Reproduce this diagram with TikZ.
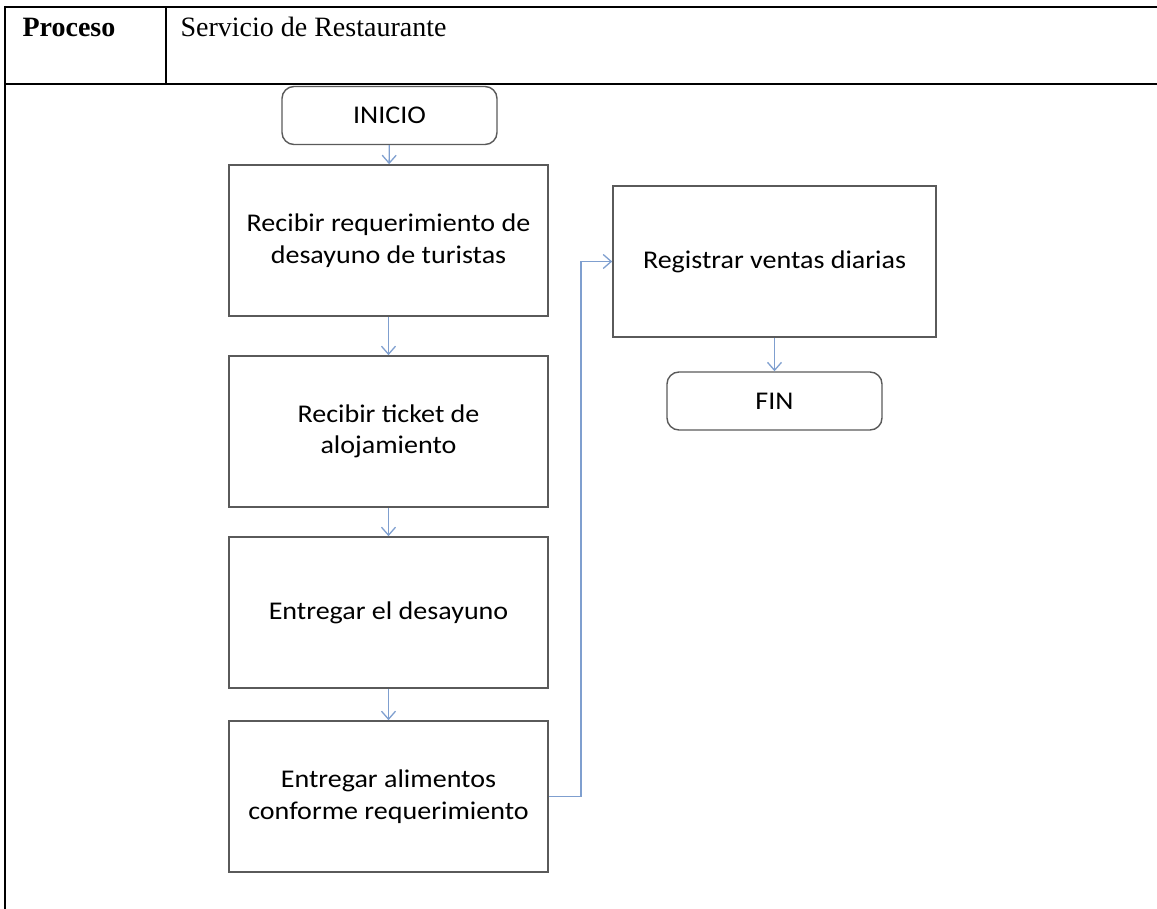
\documentclass[tikz,border=0pt]{standalone}
\usepackage{fontspec}
\setmainfont{Liberation Serif}
\newfontfamily\boxfont[FakeStretch=1.1]{Carlito}
\usetikzlibrary{arrows.meta}
\definecolor{boxline}{HTML}{5A5A5A}
\definecolor{flowblue}{HTML}{7F9FCF}
\begin{document}
\begin{tikzpicture}[x=1pt,y=-1pt,
  stepbox/.style={draw=boxline,line width=1.6pt,rectangle,minimum width=319pt,minimum height=151pt,
    align=center,font=\boxfont\fontsize{25.5}{31.5}\selectfont,inner sep=0pt},
  termbox/.style={draw=boxline,line width=1.4pt,rectangle,rounded corners=12pt,minimum width=215pt,
    minimum height=58pt,font=\boxfont\fontsize{25.5}{31.5}\selectfont,inner sep=0pt},
  flow/.style={draw=flowblue,line width=1.3pt,-{Straight Barb[length=8pt,width=14pt,line width=1.3pt]}},
  rule/.style={draw=black,line width=2pt}]
\useasboundingbox (0,0) rectangle (1157,909);
% table frame
\draw[rule] (5,7) -- (1157,7);
\draw[rule] (5,84) -- (1157,84);
\draw[rule] (5,6) -- (5,909);
\draw[rule] (165.5,7) -- (165.5,84);
\node[anchor=base west,font=\fontsize{28}{32}\selectfont\bfseries] (proc) at (19,37) {Proceso};
\node[anchor=base west,font=\fontsize{28}{32}\selectfont] (serv) at (177,37) {Servicio de Restaurante};
% flow chart
\node[termbox] (ini) at (389.5,115.5) {INICIO};
\node[stepbox] (b1) at (388.5,240.5) {Recibir requerimiento de\\desayuno de turistas};
\node[stepbox] (b2) at (388.5,431.5) {Recibir ticket de\\alojamiento};
\node[stepbox] (b3) at (388.5,612.5) {Entregar el desayuno};
\node[stepbox] (b4) at (388.5,796.5) {Entregar alimentos\\conforme requerimiento};
\node[stepbox,minimum width=323pt] (b5) at (774.5,261.5) {Registrar ventas diarias};
\node[termbox] (fin) at (774.5,401) {FIN};
\coordinate (bend) at (581,796.5);
\draw[flow] (ini) -- (b1);
\draw[flow] (b1) -- (b2);
\draw[flow] (b2) -- (b3);
\draw[flow] (b3) -- (b4);
\draw[flow] (b4.east) -- (bend) |- (b5.west);
\draw[flow] (b5) -- (fin);
\end{tikzpicture}
\end{document}
